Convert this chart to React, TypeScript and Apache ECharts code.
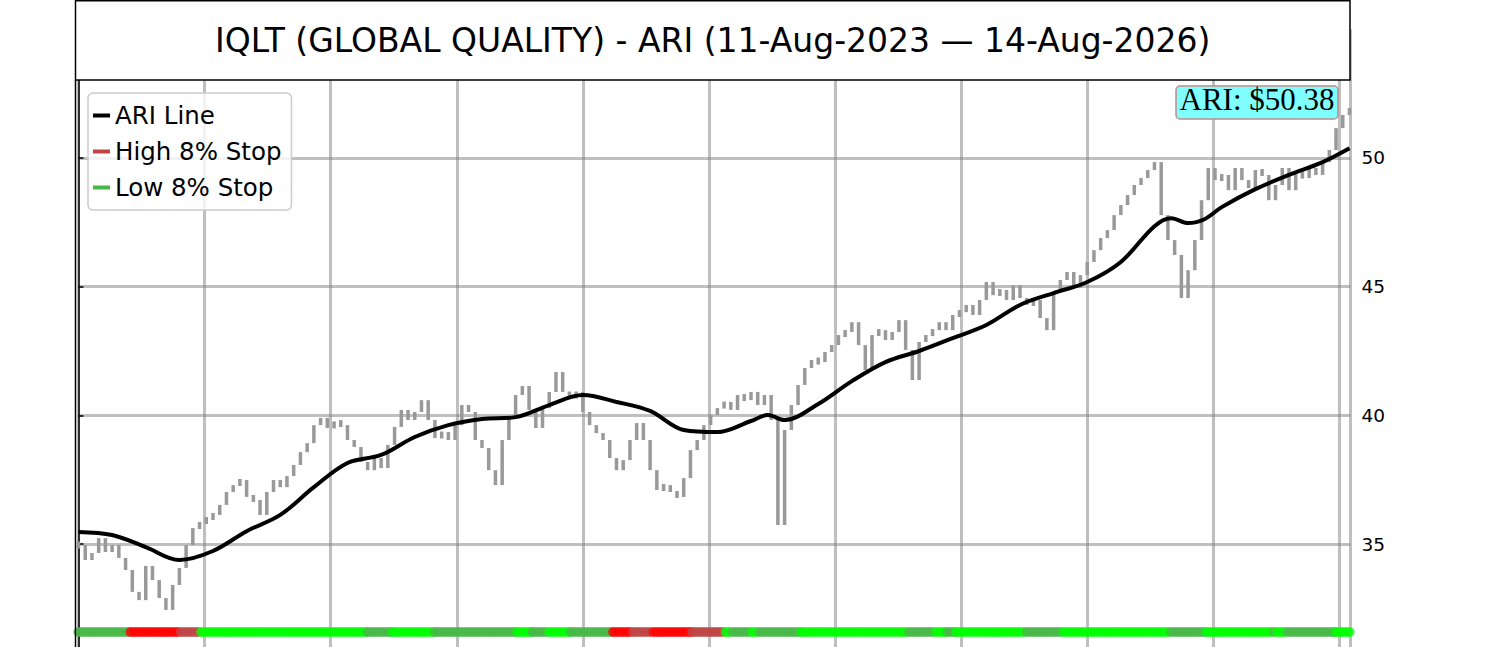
import React, { useEffect, useRef } from 'react';
import * as echarts from 'echarts';

const TITLE = 'IQLT (GLOBAL QUALITY) - ARI (11-Aug-2023 — 14-Aug-2026)';

// closes sampled every 4 trading days, starting at day 0
const CLOSE_STEP = 4;
const closes = [
    34.96, 34.38, 34.65, 35.23, 34.69, 34.96, 34.46, 33.99, 33.14, 32.82,
    34.15, 33.60, 32.90, 32.44, 33.41, 34.07, 34.96, 35.62, 35.82, 36.01,
    36.13, 36.52, 37.02, 37.29, 37.49, 36.83, 36.71, 36.13, 37.02, 37.49,
    37.21, 37.64, 38.07, 38.57, 38.92, 39.62, 39.90, 39.51, 39.74, 39.62,
    39.04, 38.77, 38.19, 37.87, 38.34, 37.95, 38.85, 39.55, 40.21, 39.82,
    40.13, 40.59, 39.82, 39.12, 39.35, 39.04, 39.62, 40.40, 40.13, 39.04,
    38.73, 37.87, 37.29, 39.04, 39.90, 40.79, 41.14, 40.21, 39.51, 40.28,
    40.91, 41.68, 40.91, 40.67, 40.91, 40.13, 39.62, 39.31, 39.04, 38.34,
    37.87, 38.26, 39.04, 39.70, 39.04, 37.87, 37.10, 37.29, 37.02, 36.83,
    37.56, 38.65, 39.04, 39.62, 40.01, 40.28, 40.52, 40.21, 40.79, 40.59,
    40.91, 40.40, 40.79, 39.82, 35.74, 39.43, 40.40, 41.18, 41.84, 42.15,
    42.07, 42.46, 42.73, 43.12, 43.24, 43.62, 42.73, 41.76, 43.12, 43.31,
    42.93, 43.24, 43.70, 42.54, 41.37, 42.85, 43.12, 43.31, 43.62, 43.31,
    43.90, 44.01, 44.29, 43.90, 44.48, 45.18, 44.67, 44.87, 44.48, 45.06,
    44.56, 44.29, 44.48, 43.78, 43.31, 44.79, 45.26, 45.57, 44.95, 45.45,
    45.96, 46.42, 46.89, 47.20, 47.78, 48.17, 48.56, 48.95, 49.22, 49.53,
    49.84, 47.78, 46.81, 46.23, 44.56, 45.64, 46.81, 48.36, 49.61, 49.14,
    49.34, 48.75, 49.61, 49.14, 48.83, 49.53, 49.34, 48.36, 48.95, 49.61,
    48.75, 49.45, 49.22, 49.61, 49.34, 49.84, 50.31, 51.16, 51.67, 51.94,
];

const ariDays = [
    0, 20, 40, 60, 80, 100, 120, 140, 160, 180, 200, 220, 240, 260, 280, 300, 320, 340, 360, 380, 400,
    410, 420, 440, 460, 480, 500, 520, 540, 560, 580, 600, 620, 640, 650, 660, 670, 680, 700, 720, 740, 756,
];
const ariValues = [
    35.47, 35.35, 34.88, 34.38, 34.73, 35.50, 36.13, 37.21, 38.15, 38.46, 39.16, 39.62, 39.86, 39.93, 40.40,
    40.79, 40.52, 40.17, 39.43, 39.35, 39.78, 40.01, 39.82, 40.44, 41.33, 42.07, 42.50, 43.00, 43.51, 44.29,
    44.75, 45.18, 45.96, 47.35, 47.66, 47.47, 47.63, 48.09, 48.79, 49.34, 49.84, 50.38,
];

// stop state strip: [startDay, endDay, state]
const stopRuns: [number, number, string][] = [
    [0, 31, 'L'], [31, 61, 'R'], [61, 73, 'H'], [73, 172, 'G'], [172, 187, 'L'], [187, 212, 'G'],
    [212, 261, 'L'], [261, 270, 'G'], [270, 280, 'L'], [280, 293, 'G'], [293, 318, 'L'], [318, 330, 'R'],
    [330, 342, 'H'], [342, 365, 'R'], [365, 385, 'H'], [385, 389, 'G'], [389, 401, 'L'], [401, 405, 'G'],
    [405, 430, 'L'], [430, 494, 'G'], [494, 510, 'L'], [510, 517, 'G'], [517, 522, 'L'], [522, 564, 'G'],
    [564, 586, 'L'], [586, 650, 'G'], [650, 671, 'L'], [671, 711, 'G'], [711, 713, 'L'], [713, 719, 'G'],
    [719, 748, 'L'], [748, 757, 'G'],
];
const stopColors: Record<string, string> = { L: '#47b847', H: '#bf4545', R: '#ff0000', G: '#00ff00' };
const STOP_LEVEL = 31.58;

const yTicks = [35, 40, 45, 50];

const GRID_COLOR = 'rgba(128,128,128,0.5)';

export default function App() {
    const chartRef = useRef<HTMLDivElement>(null);

    useEffect(() => {
        if (!chartRef.current) return;
        document.body.style.margin = '0';
        const chart = echarts.init(chartRef.current, null, { renderer: 'svg' });

        const priceData = closes.map((v, i) => [i * CLOSE_STEP, v, i ? closes[i - 1] : v]);
        const ariData = ariDays.map((d, i) => [d, ariValues[i]]);
        const stripData: any[] = [];
        stopRuns.forEach(([s, e, st]) => {
            for (let d = s; d < e; d += 2) {
                stripData.push({ value: [d, STOP_LEVEL], itemStyle: { color: stopColors[st] } });
            }
        });
        const lastAri = ariValues[ariValues.length - 1];

        const option = {
            animation: false,
            // 30..55 spans 643.4px, so 30 sits below the page and 55 behind the title box
            grid: { left: 78.5, width: 1272, top: 29.3, height: 643.4, outerBoundsMode: 'none', containLabel: false },
            xAxis: {
                type: 'value',
                min: 0,
                max: 756.6,
                interval: 75,
                axisLine: { show: false },
                axisTick: { show: false },
                axisLabel: { show: false },
                splitLine: { show: true, lineStyle: { color: GRID_COLOR, width: 3 } },
            },
            yAxis: {
                type: 'value',
                position: 'right',
                min: 30,
                max: 55,
                interval: 5,
                axisLine: { show: true, lineStyle: { color: '#000', width: 1.5 } },
                axisTick: { show: true, length: 5, lineStyle: { color: '#000', width: 1.5 }, customValues: yTicks },
                axisLabel: {
                    color: '#000',
                    fontSize: 18.5,
                    fontFamily: 'DejaVu Sans',
                    margin: 11,
                    customValues: yTicks,
                    formatter: (v: number) => (yTicks.includes(v) ? String(v) : ''),
                },
                splitLine: { show: true, lineStyle: { color: GRID_COLOR, width: 3 } },
            },
            legend: {
                left: 88,
                top: 93,
                orient: 'vertical',
                icon: 'rect',
                itemWidth: 17,
                itemHeight: 4,
                itemGap: 11,
                padding: [10, 10, 10, 5],
                backgroundColor: 'rgba(255,255,255,0.8)',
                borderColor: '#cccccc',
                borderWidth: 1.5,
                borderRadius: 5,
                textStyle: { fontFamily: 'DejaVu Sans', fontSize: 24.5, color: '#000' },
                data: ['ARI Line', 'High 8% Stop', 'Low 8% Stop'],
            },
            series: [
                {
                    type: 'custom',
                    name: 'Price',
                    data: priceData,
                    encode: { x: 0, y: 1 },
                    z: 2,
                    silent: true,
                    renderItem: (_p: any, api: any) => {
                        const a = api.coord([api.value(0), api.value(1)]);
                        const b = api.coord([api.value(0), api.value(2)]);
                        const h = Math.max(Math.abs(a[1] - b[1]), 7);
                        const mid = (a[1] + b[1]) / 2;
                        return {
                            type: 'rect',
                            shape: { x: a[0] - 1.75, y: mid - h / 2, width: 3.5, height: h },
                            style: { fill: '#999999' },
                        };
                    },
                },
                {
                    type: 'line',
                    name: 'ARI Line',
                    data: ariData,
                    smooth: 0.35,
                    showSymbol: false,
                    color: '#000',
                    lineStyle: { color: '#000', width: 4 },
                    z: 3,
                    silent: true,
                },
                { type: 'line', name: 'High 8% Stop', data: [], color: '#bf4545' },
                { type: 'line', name: 'Low 8% Stop', data: [], color: '#47b847' },
                {
                    type: 'scatter',
                    name: 'Stop State',
                    data: stripData,
                    symbol: 'circle',
                    symbolSize: 10,
                    clip: true,
                    z: 4,
                    silent: true,
                },
            ],
            graphic: [
                {
                    type: 'rect',
                    z: 100,
                    shape: { x: 75.5, y: 0.75, width: 1274.5, height: 79.25 },
                    style: { fill: '#fff', stroke: '#000', lineWidth: 1.5 },
                },
                {
                    type: 'text',
                    z: 101,
                    x: 712.75,
                    y: 40.5,
                    style: {
                        text: TITLE,
                        fontSize: 33,
                        fontFamily: 'DejaVu Sans',
                        fill: '#000',
                        align: 'center',
                        verticalAlign: 'middle',
                    },
                },
                {
                    type: 'line',
                    z: 100,
                    shape: { x1: 75.5, y1: 80, x2: 75.5, y2: 647 },
                    style: { stroke: '#000', lineWidth: 1.5 },
                },
                {
                    type: 'rect',
                    z: 100,
                    shape: { x: 1176, y: 86, width: 162, height: 33, r: 4 },
                    style: { fill: '#80ffff', stroke: '#c08a8a', lineWidth: 1.5 },
                },
                {
                    type: 'text',
                    z: 101,
                    x: 1257,
                    y: 99,
                    style: {
                        text: `ARI: $${lastAri.toFixed(2)}`,
                        fontSize: 31,
                        fontFamily: 'Liberation Serif',
                        fill: '#000',
                        align: 'center',
                        verticalAlign: 'middle',
                    },
                },
            ],
        };

        chart.setOption(option);
        return () => chart.dispose();
    }, []);

    return <div ref={chartRef} style={{ width: '1500px', height: '647px' }} />;
}
